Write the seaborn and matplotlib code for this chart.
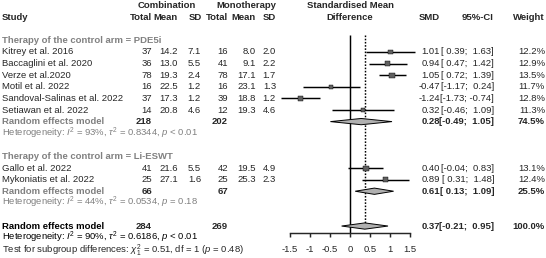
import numpy as np
import pandas as pd
import seaborn as sns
import matplotlib.pyplot as plt
from matplotlib import transforms
from matplotlib.patches import Polygon

# study level data
studies = ['Kitrey et al. 2016', 'Baccaglini et al. 2020', 'Verze et al.2020', 'Motil et al. 2022',
           'Sandoval-Salinas et al. 2022', 'Setiawan et al. 2022', 'Gallo et al. 2022', 'Mykoniatis et al. 2022']
group = ['PDE5i'] * 6 + ['Li-ESWT'] * 2
comb_n = [37, 36, 78, 16, 37, 14, 41, 25]
comb_mean = [14.2, 13.0, 19.3, 22.5, 17.3, 20.8, 21.6, 27.1]
comb_sd = [7.1, 5.5, 2.4, 1.2, 1.2, 4.6, 5.5, 1.6]
mono_n = [16, 41, 78, 16, 39, 12, 42, 25]
mono_mean = [8.0, 9.1, 17.1, 23.1, 18.8, 19.3, 19.5, 25.3]
mono_sd = [2.0, 2.2, 1.7, 1.3, 1.2, 4.6, 4.9, 2.3]
smd = [1.01, 0.94, 1.05, -0.47, -1.24, 0.32, 0.40, 0.89]
ci_lo = [0.39, 0.47, 0.72, -1.17, -1.73, -0.46, -0.04, 0.31]
ci_hi = [1.63, 1.42, 1.39, 0.24, -0.74, 1.09, 0.83, 1.48]
weight = [12.2, 12.9, 13.5, 11.7, 12.8, 11.3, 13.1, 12.4]
study_rows = [3, 4, 5, 6, 7, 8, 13, 14]

# pooled estimates
pooled_labels = ['PDE5i', 'Li-ESWT', 'Overall']
pooled_rows = [9, 15, 18]
pooled_comb_n = [218, 66, 284]
pooled_mono_n = [202, 67, 269]
pooled_smd = [0.28, 0.61, 0.37]
pooled_lo = [-0.49, 0.13, -0.21]
pooled_hi = [1.05, 1.09, 0.95]
pooled_weight = [74.5, 25.5, 100.0]
heterogeneity = [r'Heterogeneity: $I^2$ = 93%, $\tau^2$ = 0.8344, $p$ < 0.01',
                 r'Heterogeneity: $I^2$ = 44%, $\tau^2$ = 0.0534, $p$ = 0.18',
                 r'Heterogeneity: $I^2$ = 90%, $\tau^2$ = 0.6186, $p$ < 0.01']
subgroup_test = r'Test for subgroup differences: $\chi^2_1$ = 0.51, df = 1 ($p$ = 0.48)'
ticks = [-1.5, -1, -0.5, 0, 0.5, 1, 1.5]

df = pd.DataFrame({'study': studies, 'group': group, 'smd': smd, 'lo': ci_lo, 'hi': ci_hi,
                   'weight': weight, 'row': study_rows})

sns.set_style('white')
plt.rcParams['font.family'] = ['Liberation Sans', 'DejaVu Sans']
plt.rcParams['mathtext.fontset'] = 'custom'
plt.rcParams['mathtext.rm'] = 'Liberation Sans'
plt.rcParams['mathtext.it'] = 'Liberation Sans:italic'
plt.rcParams['mathtext.bf'] = 'Liberation Sans:bold'

W, H = 546, 258
fs = 6.8
grey = '#808080'
lw = 1.05

fig = plt.figure(figsize=(W / 100, H / 100), dpi=100)
ax = fig.add_axes([290 / W, (H - 233) / H, 120 / W, 233 / H])
ax.set_xlim(-1.5, 1.5)
ax.set_ylim(18.6, -1.48)
for s in ['left', 'right', 'top']:
    ax.spines[s].set_visible(False)
ax.spines['bottom'].set_linewidth(lw)
ax.set_yticks([])
ax.set_xticks(ticks)
ax.set_xticklabels([f'{t:g}' for t in ticks], fontsize=fs)
ax.tick_params(axis='x', direction='out', length=3, width=lw, pad=6, bottom=True)
ax.patch.set_alpha(0)

# reference lines
ax.vlines(0, 1.5, 18.6, color='black', lw=lw, clip_on=False)
ax.vlines(pooled_smd[2], 1.5, 18, color='black', lw=lw, ls=(0, (1.1, 1.1)), clip_on=False)

# study CIs and squares
ax.hlines(df['row'], df['lo'], df['hi'], color='black', lw=lw, clip_on=False)
sns.scatterplot(data=df, x='smd', y='row', size='weight', sizes=(9, 14), marker='s',
                color='#606060', edgecolor='black', linewidth=0.3, legend=False, ax=ax, clip_on=False, zorder=3)
ax.set_xlabel('')
ax.set_ylabel('')

# diamonds
for r, est, lo, hi in zip(pooled_rows, pooled_smd, pooled_lo, pooled_hi):
    ax.add_patch(Polygon([(lo, r), (est, r - 0.27), (hi, r), (est, r + 0.27)], closed=True,
                         fc='#b0b0b0', ec='black', lw=0.7, clip_on=False, zorder=4))

tr = transforms.blended_transform_factory(fig.transFigure, ax.transData)


def txt(px, row, s, ha='left', **kw):
    ax.text(px / W, row, s, transform=tr, ha=ha, va='center', fontsize=fs, clip_on=False, **kw)


def ci_str(lo, hi):
    return f'[{lo:5.2f}; {hi:5.2f}]'


# column anchors (right edges in pixels)
x_cn, x_cm, x_cs = 152, 178, 201
x_mn, x_mm, x_ms = 228, 256, 276
x_smd, x_ci, x_w = 440, 494, 545

# headers
txt(167, -1, 'Combination', ha='center', fontweight='bold')
txt(246, -1, 'Monotherapy', ha='center', fontweight='bold')
txt(350, -1, 'Standardised Mean', ha='center', fontweight='bold')
txt(2, 0, 'Study', fontweight='bold')
for px, s in [(x_cn, 'Total'), (x_cm, 'Mean'), (x_cs + 1, 'SD'), (x_mn, 'Total'), (x_mm, 'Mean'),
              (x_ms, 'SD'), (x_smd, 'SMD'), (x_ci, '95%-CI'), (x_w, 'Weight')]:
    txt(px, 0, s, ha='right', fontweight='bold')
txt(350, 0, 'Difference', ha='center', fontweight='bold')

txt(2, 2, 'Therapy of the control arm = PDE5i', color=grey, fontweight='bold')
txt(2, 12, 'Therapy of the control arm = Li-ESWT', color=grey, fontweight='bold')

for i, row in enumerate(study_rows):
    txt(2, row, studies[i])
    txt(x_cn, row, f'{comb_n[i]}', ha='right')
    txt(x_cm, row, f'{comb_mean[i]:.1f}', ha='right')
    txt(x_cs, row, f'{comb_sd[i]:.1f}', ha='right')
    txt(x_mn, row, f'{mono_n[i]}', ha='right')
    txt(x_mm, row, f'{mono_mean[i]:.1f}', ha='right')
    txt(x_ms, row, f'{mono_sd[i]:.1f}', ha='right')
    txt(x_smd, row, f'{smd[i]:.2f}', ha='right')
    txt(x_ci, row, ci_str(ci_lo[i], ci_hi[i]), ha='right')
    txt(x_w, row, f'{weight[i]:.1f}%', ha='right')

for j, row in enumerate(pooled_rows):
    c = grey if j < 2 else 'black'
    txt(2, row, 'Random effects model', color=c, fontweight='bold')
    txt(x_cn, row, f'{pooled_comb_n[j]}', ha='right', fontweight='bold')
    txt(x_mn, row, f'{pooled_mono_n[j]}', ha='right', fontweight='bold')
    txt(x_smd, row, f'{pooled_smd[j]:.2f}', ha='right', fontweight='bold')
    txt(x_ci, row, ci_str(pooled_lo[j], pooled_hi[j]), ha='right', fontweight='bold')
    txt(x_w, row, f'{pooled_weight[j]:.1f}%', ha='right', fontweight='bold')
    txt(2, row + 1 - (0.05 if j == 2 else 0), heterogeneity[j], color=c)

txt(2, 20.1, subgroup_test)

fig.savefig('out.png', dpi=100)
